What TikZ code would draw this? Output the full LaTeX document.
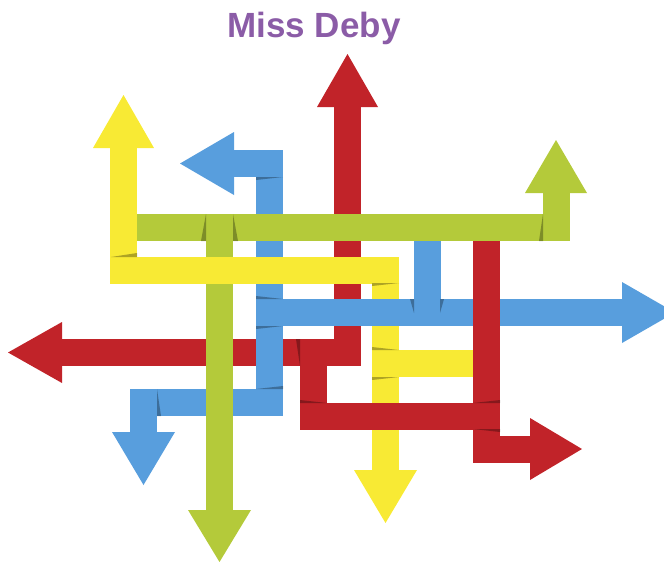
\documentclass[tikz,border=0pt]{standalone}
\usepackage{fontspec}
\setmainfont{Liberation Sans}
\usetikzlibrary{positioning}

\definecolor{ribred}{RGB}{193,35,41}
\definecolor{ribyellow}{RGB}{248,234,52}
\definecolor{ribgreen}{RGB}{180,202,58}
\definecolor{ribblue}{RGB}{88,158,221}
\definecolor{titlepurple}{RGB}{139,92,167}

\begin{document}
\begin{tikzpicture}[x=1pt,y=-1pt,
        ribbon/.style={line width=27pt,line cap=butt,line join=miter},
        crease/.style={fill=black,opacity=0.3}]
        \useasboundingbox (0,0) rectangle (664,562);
        \clip (0,0) rectangle (664,562);

        \node[font=\bfseries\fontsize{35}{40}\selectfont,text=titlepurple,anchor=base] (title) at (314,37) {Miss Deby};

        % red: up and to the left
        \draw[ribbon,ribred] (347.5,107) -- (347.5,352.5) -- (62,352.5);
        \fill[ribred] (317,107) -- (347.5,54) -- (378,107) -- cycle;
        \fill[ribred] (62,322) -- (8,352.5) -- (62,383) -- cycle;

        % yellow: down, with a short tab
        \draw[ribbon,ribyellow] (385.5,257) -- (385.5,470);
        \draw[ribbon,ribyellow] (385.5,363.5) -- (473,363.5);
        \fill[ribyellow] (354,470) -- (385.5,523) -- (417,470) -- cycle;

        % blue
        \draw[ribbon,ribblue] (234,163.5) -- (269.5,163.5) -- (269.5,402.5) -- (143.5,402.5) -- (143.5,432);
        \draw[ribbon,ribblue] (269.5,312.5) -- (622,312.5);
        \draw[ribbon,ribblue] (427,241) -- (427,312.5);
        \fill[ribblue] (234,132) -- (180,163.5) -- (234,195) -- cycle;
        \fill[ribblue] (112,432) -- (143.5,485) -- (175,432) -- cycle;
        \fill[ribblue] (622,282) -- (675,312.5) -- (622,343) -- cycle;

        % red: loop and right
        \draw[ribbon,ribred] (313,352.5) -- (313,416) -- (486.5,416);
        \draw[ribbon,ribred] (486.5,241) -- (486.5,449) -- (530,449);
        \fill[ribred] (530,418) -- (582,449) -- (530,480) -- cycle;

        % green: down
        \draw[ribbon,ribgreen] (219.5,227.5) -- (219.5,510);
        \fill[ribgreen] (188,510) -- (219.5,562) -- (251,510) -- cycle;

        % yellow: up
        \draw[ribbon,ribyellow] (123.5,148) -- (123.5,270) -- (385.5,270);
        \fill[ribyellow] (93,148) -- (123.5,95) -- (154,148) -- cycle;

        % green: up
        \draw[ribbon,ribgreen] (137,227.5) -- (556,227.5) -- (556,193);
        \fill[ribgreen] (525,193) -- (556,140) -- (587,193) -- cycle;

        % folds
        \fill[crease] (206,214) -- (206,241) -- (201,241) -- cycle;
        \fill[crease] (233,214) -- (233,241) -- (238,241) -- cycle;
        \fill[crease] (543,214) -- (543,241) -- (539,241) -- cycle;
        \fill[crease] (111,257) -- (137,257) -- (137,253) -- cycle;
        \fill[crease] (372,283) -- (399,283) -- (372,286) -- cycle;
        \fill[crease] (372,350) -- (399,350) -- (372,347) -- cycle;
        \fill[crease] (372,377) -- (399,377) -- (372,380) -- cycle;
        \fill[crease] (256,177) -- (283,177) -- (256,180) -- cycle;
        \fill[crease] (256,299) -- (283,299) -- (256,296) -- cycle;
        \fill[crease] (256,326) -- (283,326) -- (256,329) -- cycle;
        \fill[crease] (414,299) -- (414,313) -- (410,299) -- cycle;
        \fill[crease] (440,299) -- (440,313) -- (444,299) -- cycle;
        \fill[crease] (256,389) -- (283,389) -- (283,386) -- cycle;
        \fill[crease] (157,389) -- (157,416) -- (161,416) -- cycle;
        \fill[crease] (300,339) -- (300,366) -- (296,339) -- cycle;
        \fill[crease] (300,403) -- (327,403) -- (300,400) -- cycle;
        \fill[crease] (473,403) -- (500,403) -- (500,400) -- cycle;
        \fill[crease] (473,429) -- (500,429) -- (500,432) -- cycle;
    \end{tikzpicture}
\end{document}
